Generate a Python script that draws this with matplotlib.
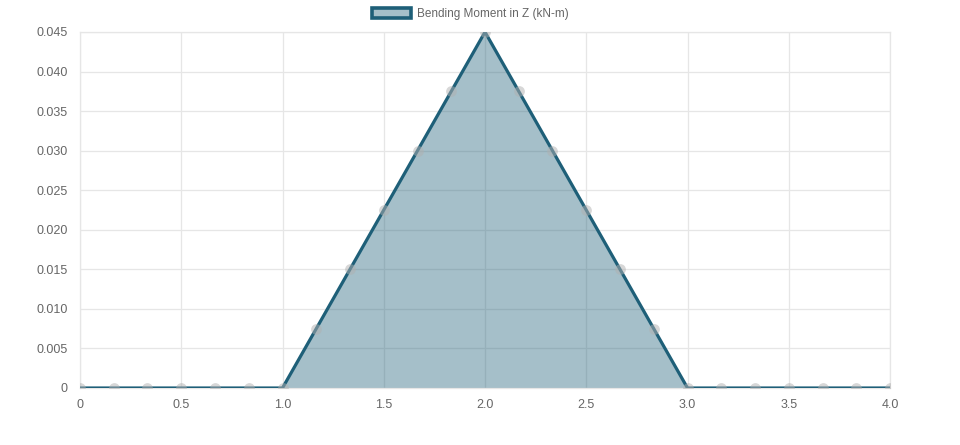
import matplotlib.pyplot as plt
import matplotlib.patches as mpatches

# beam positions (m) and bending moment (kN-m)
x_pos = [0, 0.1667, 0.3333, 0.5, 0.6667, 0.8333, 1.0, 1.1667, 1.3333, 1.5, 1.6667, 1.8333,
         2.0, 2.1667, 2.3333, 2.5, 2.6667, 2.8333, 3.0, 3.1667, 3.3333, 3.5, 3.6667, 3.8333, 4.0]
moment_z = [0, 0, 0, 0, 0, 0, 0, 0.0075, 0.015, 0.0225, 0.03, 0.0375,
            0.045, 0.0375, 0.03, 0.0225, 0.015, 0.0075, 0, 0, 0, 0, 0, 0, 0]
x_ticks = [0, 0.5, 1.0, 1.5, 2.0, 2.5, 3.0, 3.5, 4.0]
x_tick_labels = ["0", "0.5", "1.0", "1.5", "2.0", "2.5", "3.0", "3.5", "4.0"]
y_ticks = [0, 0.005, 0.01, 0.015, 0.02, 0.025, 0.03, 0.035, 0.04, 0.045]
y_tick_labels = ["0", "0.005", "0.010", "0.015", "0.020", "0.025", "0.030", "0.035", "0.040", "0.045"]

LINE = "#1e5f78"
GRID = "#e6e6e6"
TEXT = "#666666"

plt.rcParams["font.family"] = ["Liberation Sans", "DejaVu Sans"]

fig = plt.figure(figsize=(9.6, 4.45), dpi=100)
ax = fig.add_axes([80 / 960, 1 - 388 / 445, 810 / 960, 356 / 445])

ax.fill_between(x_pos, moment_z, 0, color=LINE, alpha=0.4, lw=0, zorder=2)
ax.plot(x_pos, moment_z, color=LINE, lw=2.3, zorder=3)
ax.scatter(x_pos, moment_z, s=60, color="#b0b0b0", alpha=0.5, lw=0, zorder=4)

ax.set_xlim(0, 4)
ax.set_ylim(0, 0.045)
ax.set_xticks(x_ticks)
ax.set_xticklabels(x_tick_labels)
ax.set_yticks(y_ticks)
ax.set_yticklabels(y_tick_labels)
ax.tick_params(colors=TEXT, labelsize=9, length=0, pad=8)
ax.tick_params(axis="y", pad=9)
ax.grid(True, color=GRID, lw=0.9, zorder=0)
ax.set_axisbelow(True)
for sp in ax.spines.values():
    sp.set_color(GRID)
    sp.set_linewidth(0.9)

handle = mpatches.Patch(facecolor=(0.118, 0.373, 0.471, 0.4), edgecolor=LINE, linewidth=2.6,
                        label="Bending Moment in Z (kN-m)")
fig.legend(handles=[handle], loc="upper center", bbox_to_anchor=(0.49, 1.005),
           frameon=False, fontsize=8.5, labelcolor=TEXT, handlelength=3.3,
           handleheight=0.9, handletextpad=0.45)

fig.savefig("out.png", dpi=100)
